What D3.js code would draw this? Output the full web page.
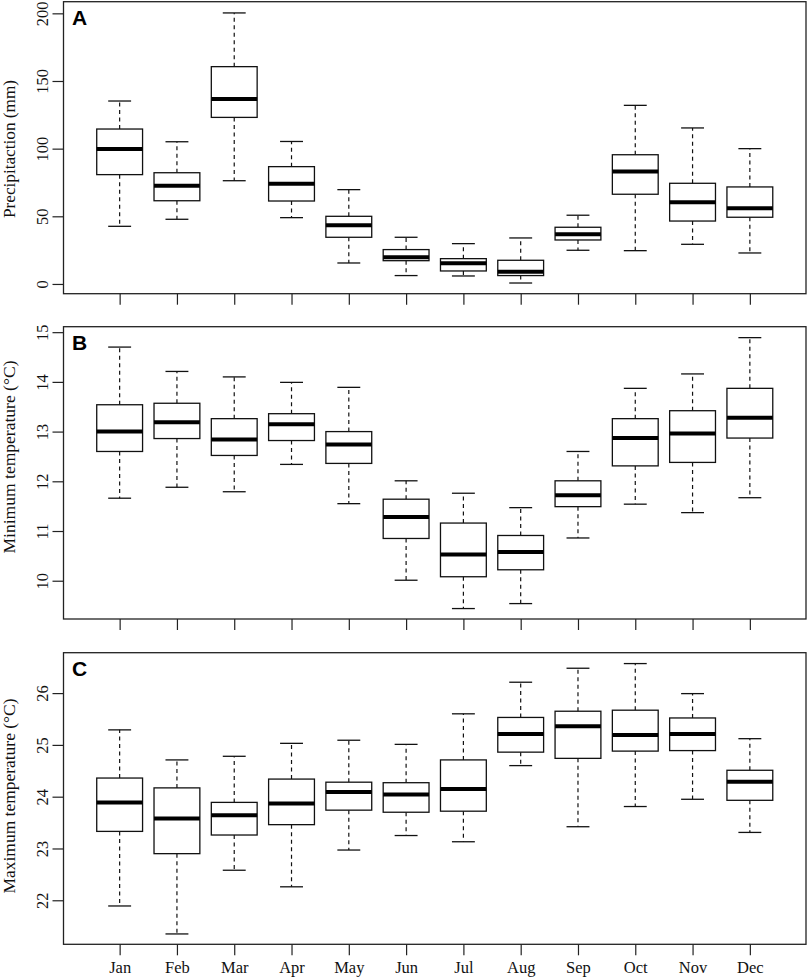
<!DOCTYPE html>
<html>
<head>
<meta charset="utf-8">
<script src="https://cdn.jsdelivr.net/npm/d3@7"></script>
<style>
  html, body { margin: 0; padding: 0; background: #fff; }
  svg { display: block; }
</style>
</head>
<body>
<svg id="chart" width="809" height="979"></svg>
<script>
// ---------- DATA ----------
const months = ["Jan","Feb","Mar","Apr","May","Jun","Jul","Aug","Sep","Oct","Nov","Dec"];

// Precipitation (mm): [lower whisker, Q1, median, Q3, upper whisker]
const precipLow    = [42.6, 47.8, 76.3, 49.0, 15.5,  6.2,  5.9,  0.7, 24.9, 24.6, 29.3, 22.9];
const precipQ1     = [80.8, 61.5,123.1, 61.3, 34.5, 17.2,  9.6,  6.2, 32.5, 66.3, 46.5, 49.3];
const precipMedian = [99.7, 72.6,136.7, 74.1, 43.4, 19.7, 15.3,  9.1, 36.7, 83.2, 60.4, 55.9];
const precipQ3     = [114.5,82.2,160.6, 86.7, 50.0, 25.4, 18.7, 17.5, 41.9, 95.5, 74.4, 71.7];
const precipHigh   = [135.2,105.1,200.3,105.3,69.7, 34.5, 29.8, 34.0, 50.8,132.0,115.3,100.0];
const precipTicks  = [0, 50, 100, 150, 200];

// Minimum temperature (°C)
const tminLow    = [11.66,11.88,11.79,12.34,11.55,10.01, 9.44, 9.54,10.86,11.54,11.37,11.67];
const tminQ1     = [12.60,12.86,12.52,12.82,12.36,10.85,10.08,10.22,11.49,12.31,12.38,12.87];
const tminMedian = [13.00,13.19,12.84,13.15,12.74,11.28,10.53,10.58,11.72,12.87,12.96,13.28];
const tminQ3     = [13.54,13.57,13.26,13.36,13.00,11.64,11.16,10.91,12.01,13.26,13.42,13.87];
const tminHigh   = [14.70,14.21,14.10,13.99,13.89,12.01,11.76,11.47,12.60,13.87,14.16,14.89];
const tminTicks  = [10, 11, 12, 13, 14, 15];

// Maximum temperature (°C)
const tmaxLow    = [21.89,21.35,22.58,22.26,22.97,23.25,23.13,24.60,23.42,23.81,23.95,23.31];
const tmaxQ1     = [23.33,22.90,23.26,23.46,23.74,23.70,23.72,24.86,24.74,24.88,24.89,23.93];
const tmaxMedian = [23.89,23.58,23.64,23.87,24.09,24.04,24.15,25.21,25.36,25.19,25.21,24.29];
const tmaxQ3     = [24.36,24.17,23.89,24.34,24.28,24.27,24.71,25.53,25.65,25.67,25.52,24.51];
const tmaxHigh   = [25.29,24.71,24.78,25.03,25.09,25.01,25.60,26.21,26.48,26.57,25.99,25.12];
const tmaxTicks  = [22, 23, 24, 25, 26];

// ---------- LAYOUT ----------
const svg = d3.select("#chart");
const plotLeft = 63.5, plotRight = 806;
const x = d3.scaleLinear().domain([0.02, 12.98]).range([plotLeft, plotRight]);
const boxW = (x(2) - x(1)) * 0.8;
const serif = "'Liberation Serif', 'Times New Roman', serif";

const panels = [
  { letter: "A", title: "Precipitaction (mm)", top: 1.7, bottom: 293.7, domain: [-7.2, 208.6],
    low: precipLow, q1: precipQ1, med: precipMedian, q3: precipQ3, high: precipHigh, ticks: precipTicks,
    titleLen: 138, titleCenter: 149, labels: false },
  { letter: "B", title: "Minimum temperature (°C)", top: 326.7, bottom: 619, domain: [9.23, 15.11],
    low: tminLow, q1: tminQ1, med: tminMedian, q3: tminQ3, high: tminHigh, ticks: tminTicks,
    titleLen: 193, titleCenter: 457, labels: false },
  { letter: "C", title: "Maximum temperature (°C)", top: 652.7, bottom: 944.3, domain: [21.15, 26.78],
    low: tmaxLow, q1: tmaxQ1, med: tmaxMedian, q3: tmaxQ3, high: tmaxHigh, ticks: tmaxTicks,
    titleLen: 195, titleCenter: 796, labels: true }
];

panels.forEach(p => {
  const y = d3.scaleLinear().domain(p.domain).range([p.bottom, p.top]);
  const g = svg.append("g");

  // y axis
  const ya = g.append("g").attr("transform", `translate(${plotLeft},0)`)
    .call(d3.axisLeft(y).tickValues(p.ticks).tickSize(11).tickFormat(d3.format("d")));
  ya.select(".domain").remove();
  ya.selectAll(".tick line").attr("stroke", "#222").attr("stroke-width", 1.2);
  ya.selectAll(".tick text")
    .attr("x", 0).attr("y", -15.5).attr("dy", 0)
    .attr("text-anchor", "middle")
    .attr("transform", "rotate(-90)")
    .attr("fill", "#111")
    .style("font-family", serif).style("font-size", "16.5px");

  // x axis
  const xa = g.append("g").attr("transform", `translate(0,${p.bottom})`)
    .call(d3.axisBottom(x).tickValues(d3.range(1, 13)).tickSize(11)
      .tickFormat(d => p.labels ? months[d - 1] : ""));
  xa.select(".domain").remove();
  xa.selectAll(".tick line").attr("stroke", "#222").attr("stroke-width", 1.2);
  xa.selectAll(".tick text")
    .attr("y", 28.7).attr("dy", 0)
    .attr("fill", "#111")
    .style("font-family", serif).style("font-size", "16.5px");

  // axis title
  g.append("text")
    .attr("transform", `translate(14.5,${p.titleCenter}) rotate(-90)`)
    .attr("text-anchor", "middle")
    .attr("textLength", p.titleLen)
    .attr("lengthAdjust", "spacingAndGlyphs")
    .attr("fill", "#111")
    .style("font-family", serif).style("font-size", "16px")
    .text(p.title);

  // boxes
  const data = months.map((m, i) => ({ i: i + 1, low: p.low[i], q1: p.q1[i], med: p.med[i], q3: p.q3[i], high: p.high[i] }));
  const bx = g.append("g").selectAll("g").data(data).join("g");

  bx.append("line").attr("x1", d => x(d.i)).attr("x2", d => x(d.i))
    .attr("y1", d => y(d.q3)).attr("y2", d => y(d.high))
    .attr("stroke", "#111").attr("stroke-width", 1.2).attr("stroke-dasharray", "4,3.5");
  bx.append("line").attr("x1", d => x(d.i)).attr("x2", d => x(d.i))
    .attr("y1", d => y(d.q1)).attr("y2", d => y(d.low))
    .attr("stroke", "#111").attr("stroke-width", 1.2).attr("stroke-dasharray", "4,3.5");
  bx.append("line").attr("x1", d => x(d.i) - boxW / 4).attr("x2", d => x(d.i) + boxW / 4)
    .attr("y1", d => y(d.high)).attr("y2", d => y(d.high))
    .attr("stroke", "#111").attr("stroke-width", 1.3);
  bx.append("line").attr("x1", d => x(d.i) - boxW / 4).attr("x2", d => x(d.i) + boxW / 4)
    .attr("y1", d => y(d.low)).attr("y2", d => y(d.low))
    .attr("stroke", "#111").attr("stroke-width", 1.3);
  bx.append("rect")
    .attr("x", d => x(d.i) - boxW / 2).attr("width", boxW)
    .attr("y", d => y(d.q3)).attr("height", d => y(d.q1) - y(d.q3))
    .attr("fill", "#fff").attr("stroke", "#111").attr("stroke-width", 1.3);
  bx.append("line").attr("x1", d => x(d.i) - boxW / 2).attr("x2", d => x(d.i) + boxW / 2)
    .attr("y1", d => y(d.med)).attr("y2", d => y(d.med))
    .attr("stroke", "#000").attr("stroke-width", 4);

  // frame
  g.append("rect")
    .attr("x", plotLeft).attr("y", p.top)
    .attr("width", plotRight - plotLeft).attr("height", p.bottom - p.top)
    .attr("fill", "none").attr("stroke", "#222").attr("stroke-width", 1.3);

  // panel letter
  g.append("text")
    .attr("x", 72).attr("y", p.top + 23.5)
    .attr("fill", "#000")
    .style("font-family", "'Liberation Sans', Arial, sans-serif")
    .style("font-weight", "bold").style("font-size", "21px")
    .text(p.letter);
});
</script>
</body>
</html>
